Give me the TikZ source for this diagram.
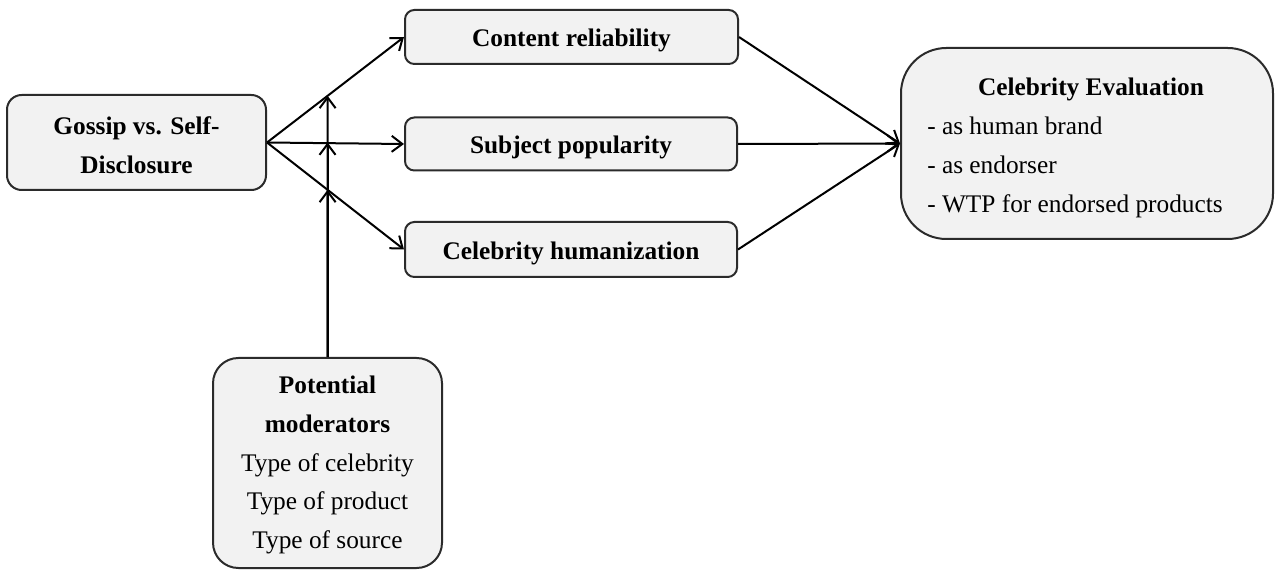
\documentclass[tikz,border=0pt]{standalone}
\usepackage{fontspec}
\setmainfont{Liberation Serif}
\usetikzlibrary{arrows.meta,calc}
\definecolor{boxline}{HTML}{2B2B2B}
\definecolor{boxfill}{HTML}{F2F2F2}
\begin{document}
\begin{tikzpicture}[x=0.75pt,y=-0.75pt,
  txt/.style={font=\fontsize{19}{29}\selectfont, inner sep=0pt},
  box/.style={txt, draw=boxline, fill=boxfill, line width=1.5pt, align=center},
  oneline/.style={text height=18.5pt, text depth=4pt},
  sized/.style 2 args={minimum width=#1*0.75pt, minimum height=#2*0.75pt},
  link/.style={line width=1.5pt, draw=black, -{Straight Barb[length=8pt,width=12pt]}}
]
\useasboundingbox (0,0) rectangle (1282,570);

% independent variable
\node[box, sized={259}{95}, rounded corners=11pt] (g) at (136.5,142.5) {};
\node[txt, align=center] (gt) at (136.5,145.5)
  {\textbf{Gossip vs. Self-}\\\textbf{Disclosure}};

% mediators
\node[box, oneline, sized={333}{54}, rounded corners=7pt] (c) at (571.5,37)
  {\textbf{Content reliability}};
\node[box, oneline, sized={332}{53}, rounded corners=7pt] (s) at (571,144)
  {\textbf{Subject popularity}};
\node[box, oneline, sized={332}{55}, rounded corners=7pt] (h) at (571,249.5)
  {\textbf{Celebrity humanization}};

% outcome
\node[box, sized={372}{191}, rounded corners=34pt] (e) at (1087,143.5) {};
\node[txt, anchor=base] (et) at (1091,96) {\textbf{Celebrity Evaluation}};
\node[txt, anchor=west, align=left] (el) at (927,167.5)
  {- as human brand\\- as endorser\\- WTP for endorsed products};

% moderators
\node[box, sized={229}{210}, rounded corners=19pt] (m) at (327.5,463) {};
\node[txt, align=center] (mt) at (327.5,465)
  {\textbf{Potential}\\\textbf{moderators}\\Type of celebrity\\Type of product\\Type of source};

% paths from the independent variable to the mediators
\draw[link] (g.east) -- (c.west);
\draw[link] (g.east) -- (s.west);
\draw[link] (g.east) -- (h.west);

% paths from the mediators to the outcome
\draw[link] (c.east) -- (e.west);
\draw[link] (s.east) -- (e.west);
\draw[link] (h.east) -- (e.west);

% moderation of the three paths
\coordinate (p1) at ($(g.east)!0.4424!(c.west)$);
\coordinate (p2) at (g.east -| m.north);
\coordinate (p3) at ($(g.east)!0.4424!(h.west)$);
\draw[link] (m.north) -- (p3);
\draw[link] (m.north) -- (p2);
\draw[link] (m.north) -- (p1);
\end{tikzpicture}
\end{document}
